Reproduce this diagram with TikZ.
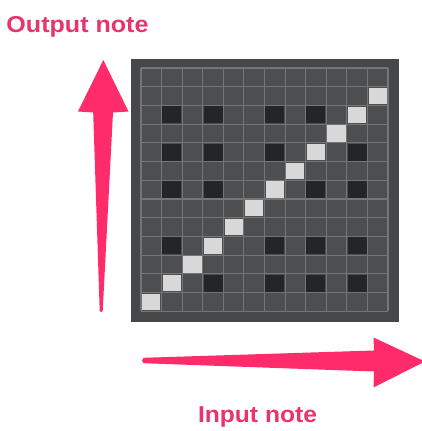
\documentclass[tikz,border=0pt]{standalone}
\usepackage{fontspec}
\usepackage{graphicx}
\setmainfont{Liberation Sans}
\definecolor{pinkarrow}{HTML}{FF2B6B}
\definecolor{pinktext}{HTML}{E8336C}
\definecolor{boxbg}{HTML}{454748}
\definecolor{cellbg}{HTML}{4C4E4F}
\definecolor{gridln}{HTML}{737577}
\definecolor{darkcell}{HTML}{242526}
\definecolor{lightcell}{HTML}{D8D8D8}
\begin{document}
\begin{tikzpicture}[x=1pt,y=-1pt,
  notelabel/.style={font=\bfseries\fontsize{23}{23}\selectfont, text=pinktext, inner sep=0pt, anchor=base},
  arrowshape/.style={fill=pinkarrow, draw=none},
  gridline/.style={draw=gridln, line width=1.1pt},
  darkbox/.style={fill=darkcell, draw=none},
  lightbox/.style={fill=lightcell, draw=none}]
\useasboundingbox (0,0) rectangle (421,431);

% matrix background
\fill[boxbg] (131,59) rectangle (399,322);
\fill[cellbg] (141,68) rectangle (388,311.3);
\def\pw{20.58}
\def\qh{18.71}
% grid lines
\foreach \i in {0,...,12}{
  \pgfmathsetmacro\xx{141+\i*\pw}
  \draw[gridline] (\xx,68) -- (\xx,311.3);
}
\foreach \j in {0,...,13}{
  \pgfmathsetmacro\yy{68+\j*\qh}
  \draw[gridline] (141,\yy) -- (388,\yy);
}
% dark cells (black keys)
\foreach \r in {3,5,7,10,12}{
  \foreach \c in {2,4,7,9,11}{
    \pgfmathtruncatemacro\s{\r+\c}
    \ifnum\s=14\else
      \pgfmathsetmacro\xa{141+(\c-1)*\pw+0.8}
      \pgfmathsetmacro\xb{141+\c*\pw-0.8}
      \pgfmathsetmacro\ya{68+(\r-1)*\qh+0.8}
      \pgfmathsetmacro\yb{68+\r*\qh-0.8}
      \fill[darkbox] (\xa,\ya) rectangle (\xb,\yb);
    \fi
  }
}
% light diagonal cells
\foreach \c in {1,...,12}{
  \pgfmathsetmacro\r{14-\c}
  \pgfmathsetmacro\xa{141+(\c-1)*\pw+1.2}
  \pgfmathsetmacro\xb{141+\c*\pw-1.2}
  \pgfmathsetmacro\ya{68+(\r-1)*\qh+1.2}
  \pgfmathsetmacro\yb{68+\r*\qh-1.2}
  \fill[lightbox] (\xa,\ya) rectangle (\xb,\yb);
}

% output (vertical) arrow
\coordinate (uptip) at (103.3,60);
\coordinate (upend) at (101.2,312);
\fill[arrowshape] (uptip) -- (128.5,111.5) -- (113,112.5) -- (102.7,311) -- (upend) -- (99.7,311) -- (93.2,112.5) -- (78,111.5) -- cycle;

% input (horizontal) arrow
\coordinate (rtip) at (425,361.5);
\coordinate (rend) at (142,360.5);
\fill[arrowshape] (rend) -- (143.5,357.8) -- (374,350.5) -- (373.5,337.5) -- (rtip) -- (373.5,387.5) -- (374,371.5) -- (143.5,363.2) -- cycle;

% labels
\node[notelabel] (outlbl) at (77.5,32) {\scalebox{1.09}[1]{Output note}};
\node[notelabel] (inlbl) at (257.5,422) {\scalebox{1.07}[1]{Input note}};
\end{tikzpicture}
\end{document}
